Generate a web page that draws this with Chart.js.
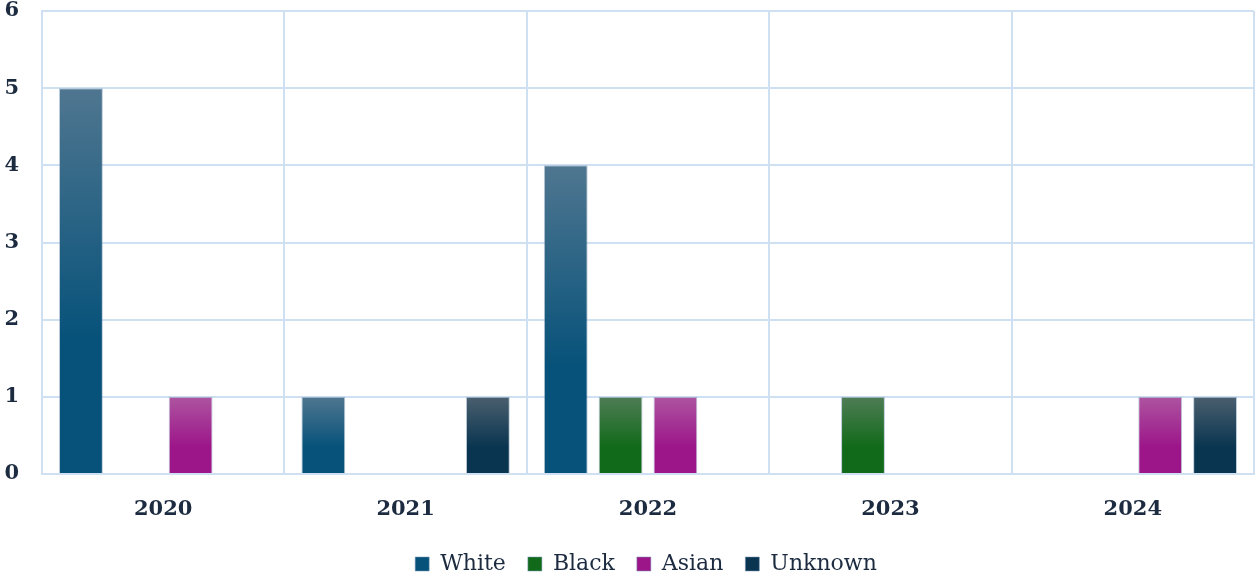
<!DOCTYPE html>
<html>
<head>
<meta charset="utf-8">
<script src="https://cdn.jsdelivr.net/npm/chart.js@4/dist/chart.umd.min.js"></script>
<style>
  html, body { margin: 0; padding: 0; background: #fff; }
  #wrap { width: 1257px; height: 577px; position: relative; }
</style>
</head>
<body>
<div id="wrap"><canvas id="myChart"></canvas></div>
<script>
var anios = ['2020', '2021', '2022', '2023', '2024'];
var blancos = [5, 1, 4, 0, 0];
var negros = [0, 0, 1, 1, 0];
var asiaticos = [1, 0, 1, 0, 1];
var desconocidos = [0, 1, 0, 0, 1];
var ticksY = [0, 1, 2, 3, 4, 5, 6];

// colores: [arriba, abajo]
var colores = {
    White: ['#4f7690', '#07527a'],
    Black: ['#4f7d55', '#116a1a'],
    Asian: ['#ad54a0', '#9c1689'],
    Unknown: ['#4a5f6e', '#0a3550']
};

function degradado(par){
    return function(context){
        var chart = context.chart;
        var y = chart.scales.y;
        if(!y || context.raw === undefined){
            return par[1];
        }
        var top = y.getPixelForValue(context.raw);
        var base = y.getPixelForValue(0);
        if(!isFinite(top) || !isFinite(base) || top === base){
            return par[1];
        }
        var g = chart.ctx.createLinearGradient(0, top, 0, base);
        g.addColorStop(0, par[0]);
        g.addColorStop(0.65, par[1]);
        g.addColorStop(1, par[1]);
        return g;
    };
}

function serie(nombre, datos){
    return {
        label: nombre,
        data: datos,
        backgroundColor: degradado(colores[nombre]),
        borderColor: 'rgba(120, 150, 180, 0.5)',
        borderWidth: 1,
        categoryPercentage: 0.905,
        barPercentage: 0.8
    };
}

// la leyenda del original esta un poco corrida a la derecha
var moverLeyenda = {
    id: 'moverLeyenda',
    afterLayout: function(chart){
        if(chart.legend){
            chart.legend.left += 18;
            chart.legend.right += 18;
        }
    }
};

var fuente = "'DejaVu Serif', serif";

var ctx = document.getElementById('myChart');
var chart = new Chart(ctx, {
    type: 'bar',
    data: {
        labels: anios,
        datasets: [
            serie('White', blancos),
            serie('Black', negros),
            serie('Asian', asiaticos),
            serie('Unknown', desconocidos)
        ]
    },
    plugins: [moverLeyenda],
    options: {
        responsive: true,
        maintainAspectRatio: false,
        animation: false,
        layout: { padding: { top: 11, right: 3, left: 2, bottom: -1 } },
        plugins: {
            legend: {
                position: 'bottom',
                maxHeight: 47,
                labels: {
                    color: '#1c2b40',
                    font: { family: fuente, size: 22 },
                    boxWidth: 14,
                    boxHeight: 14,
                    padding: 22
                }
            },
            tooltip: { enabled: false }
        },
        scales: {
            x: {
                afterFit: function(scale){
                    scale.height = 57;
                    scale.paddingTop = 0;
                    scale.paddingBottom = 0;
                },
                grid: { color: '#cfe0f2', lineWidth: 2, offset: true, drawTicks: false },
                border: { color: '#cfe0f2', width: 2 },
                ticks: {
                    color: '#1c2b40',
                    font: { family: fuente, size: 21, weight: 'bold' },
                    padding: 23
                }
            },
            y: {
                min: 0,
                max: 6,
                afterBuildTicks: function(axis){
                    axis.ticks = ticksY.map(function(v){ return { value: v }; });
                },
                afterFit: function(scale){
                    scale.width = 40;
                    scale.paddingTop = 0;
                    scale.paddingBottom = 0;
                },
                grid: { color: '#cfe0f2', lineWidth: 2, drawTicks: false },
                border: { color: '#cfe0f2', width: 2 },
                ticks: {
                    color: '#1c2b40',
                    font: { family: fuente, size: 21, weight: 'bold' },
                    padding: 23
                }
            }
        }
    }
});
</script>
</body>
</html>
